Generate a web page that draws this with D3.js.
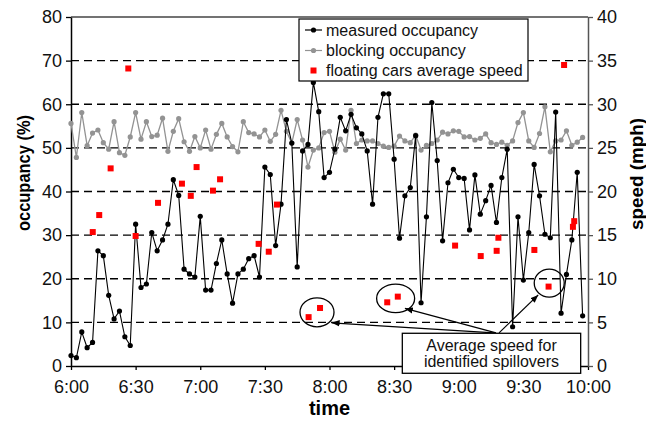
<!DOCTYPE html>
<html>
<head>
<meta charset="utf-8">
<script src="https://cdn.jsdelivr.net/npm/d3@7"></script>
<style>
  html, body { margin: 0; padding: 0; background: #fff; }
  svg { display: block; font-family: "Liberation Sans", Arial, sans-serif; }
</style>
</head>
<body>
<svg id="chart" width="646" height="421"></svg>
<script>
// ---- data ----
const intervalMinutes = 2.5; // sampling interval, measured from 6:00
const measuredOccupancy = [
  2.4, 1.9, 7.8, 4.2, 5.4, 26.4, 25.3, 16.2, 10.8, 12.6, 6.7, 4.7,
  32.5, 18.0, 18.8, 30.6, 26.4, 28.9, 32.5, 42.7, 39.1, 22.2, 21.1, 20.4,
  34.3, 17.4, 17.4, 23.5, 28.9, 21.1, 14.4, 21.1, 22.2, 24.6, 25.3, 20.4,
  45.6, 43.9, 27.6, 37.1, 56.5, 51.1, 22.7, 49.3, 50.8, 65.0, 58.3, 43.2,
  44.4, 49.7, 57.0, 53.9, 57.7, 54.6, 53.2, 49.3, 37.1, 57.0, 62.4, 62.4,
  47.4, 29.3, 39.0, 40.9, 52.8, 14.5, 34.2, 60.4, 47.1, 28.7, 42.0, 45.1,
  43.2, 43.0, 31.2, 43.8, 34.8, 37.9, 41.4, 32.9, 43.2, 49.7, 9.0, 34.2,
  19.7, 30.6, 46.2, 39.0, 30.2, 29.4, 58.2, 12.1, 21.0, 28.9, 44.4, 11.5
];
const blockingOccupancy = [
  55.6, 47.8, 58.1, 50.5, 53.4, 54.1, 51.2, 49.7, 56.0, 48.9, 48.3, 52.5,
  58.1, 52.0, 56.0, 52.6, 52.9, 56.8, 49.2, 53.8, 56.7, 51.4, 49.2, 52.6,
  50.0, 54.1, 49.7, 53.1, 55.6, 52.5, 50.3, 49.1, 56.0, 53.5, 53.2, 52.5,
  54.1, 51.5, 53.1, 58.6, 53.8, 51.1, 56.5, 51.8, 45.6, 49.5, 50.0, 53.5,
  53.8, 49.0, 52.0, 49.5, 58.6, 51.0, 51.8, 51.6, 51.6, 51.0, 50.4, 50.1,
  50.4, 52.7, 51.6, 51.2, 52.9, 49.5, 50.6, 51.0, 51.8, 53.6, 53.2, 53.9,
  53.8, 52.5, 52.6, 51.8, 52.2, 53.2, 51.2, 50.8, 51.3, 50.6, 51.6, 55.8,
  58.1, 51.6, 50.1, 53.3, 59.4, 49.1, 51.6, 51.8, 53.9, 50.6, 51.3, 52.4
];
// floating cars: minutes after 6:00 and average speed (mph)
const carMinutes = [10.1, 13.1, 18.4, 26.6, 30.0, 40.4, 51.5, 55.6, 58.3, 65.9, 69.2,
  87.1, 91.8, 95.6, 110.3, 115.6, 146.8, 151.7, 178.3, 190.2, 197.6, 198.4,
  215.1, 221.7, 228.9, 233.0, 233.6];
const carSpeed = [15.35, 17.3, 22.65, 34.1, 14.9, 18.7, 20.9, 19.5, 22.8, 20.1, 21.4,
  14.0, 13.1, 18.5, 5.6, 6.65, 7.3, 7.95, 13.8, 12.6, 13.2, 14.7,
  13.3, 9.1, 34.5, 15.95, 16.6];
const timeTicks = [0, 30, 60, 90, 120, 150, 180, 210, 240];
const occTicks = [0, 10, 20, 30, 40, 50, 60, 70, 80];
const speedTicks = [0, 5, 10, 15, 20, 25, 30, 35, 40];
const legendLabels = ["measured occupancy", "blocking occupancy", "floating cars average speed"];
// spillover annotation (minutes, occupancy-axis units)
const spillCenters = [[114.2, 12.3], [150.7, 15.5], [222.0, 19.0]];
const arrowTips = [[121.0, 9.9], [155.0, 13.2], [216.9, 16.3]];
const arrowStarts = [[196.4, 7.6], [197.3, 7.6], [198.7, 7.6]];
const noteBox = [[153.8, 7.5], [236.6, -1.67]];
const noteLines = ["Average speed for", "identified spillovers"];

// ---- layout ----
const W = 646, H = 421;
const m = {left: 71, right: 58, top: 17, bottom: 55};
const svg = d3.select("#chart");
const x = d3.scaleLinear().domain([0, 240]).range([m.left, W - m.right]);
const yL = d3.scaleLinear().domain([0, 80]).range([H - m.bottom, m.top]);
const yR = d3.scaleLinear().domain([0, 40]).range([H - m.bottom, m.top]);
const fmtTime = d => { const h = 6 + Math.floor(d / 60), mm = d % 60; return h + ":" + (mm < 10 ? "0" : "") + mm; };

// gridlines
svg.append("g").selectAll("line").data(occTicks.filter(d => d > 0 && d < 80)).join("line")
  .attr("x1", m.left).attr("x2", W - m.right)
  .attr("y1", d => yL(d)).attr("y2", d => yL(d))
  .attr("stroke", "#000").attr("stroke-width", 1.4).attr("stroke-dasharray", "8,5");

// frame top
svg.append("line").attr("x1", m.left).attr("x2", W - m.right).attr("y1", m.top).attr("y2", m.top)
  .attr("stroke", "#444").attr("stroke-width", 1.3);

// axes
const axisStyle = (g, size) => {
  g.selectAll("text").attr("font-size", size).attr("fill", "#111")
    .attr("font-family", "'Liberation Sans', Arial, sans-serif");
  g.selectAll("line").attr("stroke-width", 1.3);
  g.select(".domain").attr("stroke-width", 1.5);
};
const gx = svg.append("g").attr("transform", `translate(0,${H - m.bottom})`)
  .call(d3.axisBottom(x).tickValues(timeTicks).tickFormat(fmtTime).tickSize(4).tickSizeOuter(0).tickPadding(10));
axisStyle(gx, 18);
gx.selectAll(".domain").attr("stroke", "#000");
const gl = svg.append("g").attr("transform", `translate(${m.left},0)`)
  .call(d3.axisLeft(yL).tickValues(occTicks).tickSize(5).tickSizeOuter(0).tickPadding(4));
axisStyle(gl, 18);
const gr = svg.append("g").attr("transform", `translate(${W - m.right},0)`)
  .call(d3.axisRight(yR).tickValues(speedTicks).tickSize(5).tickSizeOuter(0).tickPadding(4));
axisStyle(gr, 18);
gr.selectAll(".domain, line").attr("stroke", "#555");

// axis titles
svg.append("text").attr("transform", `translate(30,173) rotate(-90)`)
  .attr("text-anchor", "middle").attr("font-size", 19).attr("font-weight", "bold")
  .attr("textLength", 116).attr("lengthAdjust", "spacingAndGlyphs").text("occupancy (%)");
svg.append("text").attr("transform", `translate(643,174) rotate(-90)`)
  .attr("text-anchor", "middle").attr("font-size", 19).attr("font-weight", "bold")
  .attr("textLength", 112).attr("lengthAdjust", "spacingAndGlyphs").text("speed (mph)");
svg.append("text").attr("x", x(120)).attr("y", 415).attr("text-anchor", "middle")
  .attr("font-size", 20).attr("font-weight", "bold").text("time");

// series
const tOf = i => i * intervalMinutes;
const grayCol = "#939393";
svg.append("path").datum(blockingOccupancy)
  .attr("fill", "none").attr("stroke", grayCol).attr("stroke-width", 1.3)
  .attr("d", d3.line().x((d, i) => x(tOf(i))).y(d => yL(d)));
svg.append("g").selectAll("circle").data(blockingOccupancy).join("circle")
  .attr("cx", (d, i) => x(tOf(i))).attr("cy", d => yL(d)).attr("r", 2.6).attr("fill", grayCol);

svg.append("path").datum(measuredOccupancy)
  .attr("fill", "none").attr("stroke", "#000").attr("stroke-width", 1.1)
  .attr("d", d3.line().x((d, i) => x(tOf(i))).y(d => yL(d)));
svg.append("g").selectAll("circle").data(measuredOccupancy).join("circle")
  .attr("cx", (d, i) => x(tOf(i))).attr("cy", d => yL(d)).attr("r", 2.6).attr("fill", "#000");

const sq = 6;
svg.append("g").selectAll("rect").data(carSpeed).join("rect")
  .attr("x", (d, i) => x(carMinutes[i]) - sq / 2).attr("y", d => yR(d) - sq / 2)
  .attr("width", sq).attr("height", sq).attr("fill", "#ff0000");

// annotation
svg.append("defs").append("marker").attr("id", "ah").attr("viewBox", "0 0 10 10")
  .attr("refX", 10).attr("refY", 5).attr("markerWidth", 8).attr("markerHeight", 8)
  .attr("markerUnits", "userSpaceOnUse").attr("orient", "auto")
  .append("path").attr("d", "M0,1 L10,5 L0,9 Z").attr("fill", "#000");
const radii = [[17, 14.5], [19, 14.3], [15, 14]];
svg.append("g").selectAll("ellipse").data(spillCenters).join("ellipse")
  .attr("cx", d => x(d[0])).attr("cy", d => yL(d[1]))
  .attr("rx", (d, i) => radii[i][0]).attr("ry", (d, i) => radii[i][1])
  .attr("fill", "none").attr("stroke", "#000").attr("stroke-width", 1.3);
svg.append("g").selectAll("line").data(arrowTips).join("line")
  .attr("x1", (d, i) => x(arrowStarts[i][0])).attr("y1", (d, i) => yL(arrowStarts[i][1]))
  .attr("x2", d => x(d[0])).attr("y2", d => yL(d[1]))
  .attr("stroke", "#000").attr("stroke-width", 1.2).attr("marker-end", "url(#ah)");
const bx0 = x(noteBox[0][0]), by0 = yL(noteBox[0][1]), bx1 = x(noteBox[1][0]), by1 = yL(noteBox[1][1]);
svg.append("rect").attr("x", bx0).attr("y", by0).attr("width", bx1 - bx0).attr("height", by1 - by0)
  .attr("fill", "#fff").attr("stroke", "#000").attr("stroke-width", 1.3);
svg.append("g").selectAll("text").data(noteLines).join("text")
  .attr("x", (bx0 + bx1) / 2).attr("y", (d, i) => 351 + i * 16)
  .attr("text-anchor", "middle").attr("font-size", 16).attr("fill", "#111").text(d => d);

// legend
const lg = svg.append("g");
lg.append("rect").attr("x", 299).attr("y", 19).attr("width", 229).attr("height", 62)
  .attr("fill", "#fff").attr("stroke", "#000").attr("stroke-width", 1.2);
const rowsY = [30, 50.5, 70.5];
legendLabels.forEach((lab, i) => {
  const yy = rowsY[i];
  if (i < 2) {
    const col = i === 0 ? "#000" : grayCol;
    lg.append("line").attr("x1", 305).attr("x2", 322).attr("y1", yy).attr("y2", yy)
      .attr("stroke", col).attr("stroke-width", 1.2);
    lg.append("circle").attr("cx", 313.5).attr("cy", yy).attr("r", 2.6).attr("fill", col);
  } else {
    lg.append("rect").attr("x", 313.5 - sq / 2).attr("y", yy - sq / 2).attr("width", sq).attr("height", sq)
      .attr("fill", "#ff0000");
  }
  lg.append("text").attr("x", 326).attr("y", yy + 5.5).attr("font-size", 16).attr("fill", "#111").text(lab);
});
</script>
</body>
</html>
